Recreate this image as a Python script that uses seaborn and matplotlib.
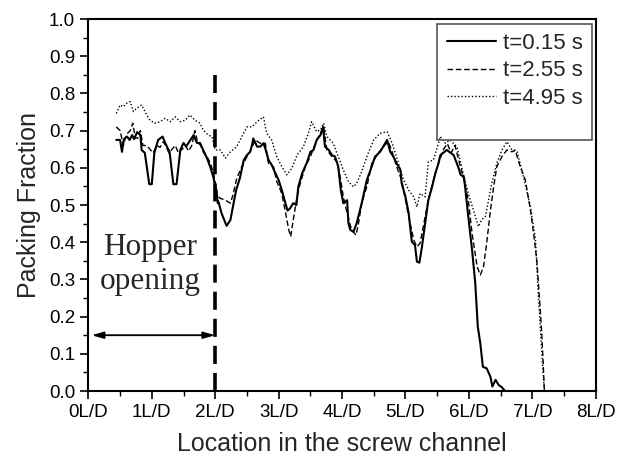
import matplotlib
matplotlib.use('Agg')
import matplotlib.pyplot as plt
from matplotlib.patches import Rectangle
from matplotlib.ticker import MultipleLocator, FuncFormatter
import seaborn as sns

# Packing fraction along the screw channel
x_solid = [0.44, 0.50, 0.53, 0.56, 0.61, 0.65, 0.69, 0.72, 0.77, 0.82,
           0.84, 0.89, 0.96, 1.00, 1.04, 1.10, 1.17, 1.21, 1.28, 1.34,
           1.39, 1.45, 1.50, 1.54, 1.59, 1.66, 1.71, 1.76, 1.81, 1.87,
           1.92, 1.97, 2.00, 2.02, 2.04, 2.05, 2.10, 2.16, 2.18, 2.24,
           2.29, 2.33, 2.39, 2.45, 2.50, 2.55, 2.58, 2.60, 2.66, 2.71,
           2.76, 2.79, 2.84, 2.89, 2.95, 3.00, 3.05, 3.10, 3.14, 3.18,
           3.23, 3.28, 3.31, 3.37, 3.45, 3.50, 3.55, 3.60, 3.66, 3.70,
           3.73, 3.79, 3.84, 3.89, 3.94, 3.98, 4.02, 4.08, 4.10, 4.13,
           4.18, 4.23, 4.31, 4.39, 4.44, 4.52, 4.60, 4.68, 4.71, 4.76,
           4.81, 4.86, 4.92, 4.94, 5.00, 5.05, 5.10, 5.15, 5.18, 5.22,
           5.26, 5.31, 5.36, 5.42, 5.47, 5.52, 5.55, 5.65, 5.76, 5.83,
           5.87, 5.92, 5.94, 5.99, 6.05, 6.10, 6.14, 6.18, 6.22, 6.28,
           6.34, 6.37, 6.42, 6.47, 6.52, 6.57]
y_solid = [0.675, 0.675, 0.643, 0.677, 0.684, 0.675, 0.688, 0.677, 0.696, 0.688,
           0.648, 0.640, 0.556, 0.556, 0.640, 0.675, 0.684, 0.667, 0.643, 0.556,
           0.556, 0.648, 0.667, 0.657, 0.670, 0.688, 0.667, 0.667, 0.648, 0.626,
           0.603, 0.576, 0.549, 0.540, 0.505, 0.509, 0.478, 0.452, 0.444, 0.460,
           0.505, 0.540, 0.573, 0.621, 0.634, 0.643, 0.661, 0.679, 0.657, 0.657,
           0.666, 0.652, 0.621, 0.608, 0.585, 0.567, 0.540, 0.509, 0.485, 0.491,
           0.505, 0.500, 0.549, 0.585, 0.616, 0.643, 0.648, 0.675, 0.688, 0.710,
           0.657, 0.648, 0.634, 0.630, 0.603, 0.540, 0.505, 0.513, 0.451, 0.433,
           0.428, 0.451, 0.505, 0.567, 0.590, 0.630, 0.643, 0.666, 0.675, 0.643,
           0.630, 0.612, 0.594, 0.558, 0.522, 0.478, 0.401, 0.392, 0.348, 0.345,
           0.388, 0.451, 0.513, 0.549, 0.585, 0.612, 0.634, 0.648, 0.634, 0.603,
           0.581, 0.576, 0.549, 0.469, 0.379, 0.290, 0.173, 0.128, 0.065, 0.061,
           0.038, 0.012, 0.030, 0.016, 0.010, 0.0]

x_dash = [0.44, 0.50, 0.55, 0.60, 0.66, 0.70, 0.74, 0.78, 0.82, 0.86,
          0.92, 0.97, 1.02, 1.08, 1.13, 1.18, 1.22, 1.27, 1.32, 1.37,
          1.42, 1.48, 1.53, 1.58, 1.63, 1.68, 1.72, 1.77, 1.82, 1.87,
          1.93, 1.98, 2.03, 2.08, 2.16, 2.24, 2.28, 2.34, 2.42, 2.50,
          2.55, 2.63, 2.71, 2.79, 2.84, 2.92, 2.97, 3.05, 3.10, 3.16,
          3.19, 3.23, 3.29, 3.34, 3.42, 3.50, 3.58, 3.63, 3.71, 3.76,
          3.84, 3.92, 3.97, 4.02, 4.08, 4.15, 4.22, 4.26, 4.31, 4.39,
          4.47, 4.57, 4.65, 4.73, 4.79, 4.86, 4.94, 5.00, 5.05, 5.13,
          5.18, 5.23, 5.28, 5.36, 5.44, 5.52, 5.60, 5.66, 5.72, 5.78,
          5.84, 5.91, 5.99, 6.05, 6.13, 6.18, 6.23, 6.28, 6.34, 6.39,
          6.44, 6.52, 6.60, 6.68, 6.73, 6.81, 6.89, 6.97, 7.02, 7.07,
          7.10, 7.14, 7.17, 7.19]
y_dash = [0.71, 0.70, 0.66, 0.69, 0.70, 0.72, 0.68, 0.68, 0.70, 0.66,
          0.66, 0.65, 0.64, 0.66, 0.655, 0.67, 0.66, 0.64, 0.65, 0.66,
          0.64, 0.65, 0.66, 0.645, 0.66, 0.70, 0.67, 0.66, 0.64, 0.63,
          0.61, 0.58, 0.527, 0.518, 0.513, 0.505, 0.527, 0.572, 0.603, 0.630,
          0.643, 0.675, 0.666, 0.666, 0.612, 0.603, 0.563, 0.531, 0.487, 0.433,
          0.415, 0.460, 0.522, 0.558, 0.603, 0.630, 0.666, 0.684, 0.710, 0.648,
          0.630, 0.616, 0.576, 0.522, 0.478, 0.433, 0.419, 0.451, 0.505, 0.549,
          0.612, 0.639, 0.657, 0.670, 0.643, 0.603, 0.567, 0.513, 0.469, 0.406,
          0.388, 0.397, 0.442, 0.513, 0.567, 0.612, 0.65, 0.665, 0.64, 0.66,
          0.62, 0.576, 0.513, 0.424, 0.334, 0.312, 0.334, 0.397, 0.487, 0.549,
          0.603, 0.630, 0.648, 0.643, 0.648, 0.603, 0.567, 0.487, 0.424, 0.352,
          0.280, 0.18, 0.08, 0.0]

x_dot = [0.44, 0.50, 0.55, 0.60, 0.66, 0.71, 0.76, 0.84, 0.92, 0.97,
         1.05, 1.13, 1.21, 1.29, 1.37, 1.45, 1.53, 1.60, 1.68, 1.76,
         1.81, 1.89, 1.95, 2.00, 2.08, 2.16, 2.24, 2.34, 2.42, 2.50,
         2.58, 2.66, 2.76, 2.81, 2.89, 2.97, 3.05, 3.13, 3.21, 3.29,
         3.39, 3.47, 3.52, 3.60, 3.66, 3.71, 3.76, 3.86, 3.94, 4.02,
         4.10, 4.18, 4.23, 4.31, 4.39, 4.50, 4.60, 4.71, 4.79, 4.89,
         4.97, 5.05, 5.13, 5.18, 5.23, 5.31, 5.36, 5.44, 5.52, 5.55,
         5.63, 5.70, 5.81, 5.91, 5.99, 6.07, 6.15, 6.20, 6.26, 6.31,
         6.36, 6.44, 6.52, 6.60, 6.68, 6.76, 6.86, 6.97, 7.05, 7.10,
         7.15, 7.19]
y_dot = [0.746, 0.769, 0.764, 0.773, 0.778, 0.751, 0.760, 0.769, 0.742, 0.728,
         0.720, 0.724, 0.733, 0.724, 0.737, 0.724, 0.728, 0.742, 0.728, 0.720,
         0.702, 0.688, 0.684, 0.648, 0.648, 0.626, 0.643, 0.657, 0.684, 0.710,
         0.710, 0.724, 0.737, 0.693, 0.675, 0.630, 0.603, 0.581, 0.599, 0.634,
         0.657, 0.693, 0.724, 0.697, 0.702, 0.720, 0.684, 0.666, 0.630, 0.594,
         0.563, 0.549, 0.558, 0.590, 0.630, 0.675, 0.693, 0.697, 0.666, 0.612,
         0.567, 0.540, 0.522, 0.495, 0.531, 0.522, 0.616, 0.621, 0.666, 0.684,
         0.666, 0.675, 0.657, 0.585, 0.531, 0.487, 0.442, 0.460, 0.469, 0.513,
         0.558, 0.612, 0.648, 0.670, 0.648, 0.643, 0.576, 0.495, 0.406, 0.245,
         0.10, 0.0]

labels = ['t=0.15 s', 't=2.55 s', 't=4.95 s']
x_ticks = list(range(0, 9))

# hopper opening marker
hopper_start = 0.05
hopper_end = 2.0
hopper_line_top = 0.85
arrow_y = 0.15

sns.set_style('ticks')
plt.rcParams['font.family'] = ['Liberation Sans', 'DejaVu Sans']

fig = plt.figure(figsize=(6.18, 4.57), dpi=100)
ax = fig.add_axes([0.143, 0.1444, 0.821, 0.814])

sns.lineplot(x=x_solid, y=y_solid, ax=ax, color='black', lw=1.5,
             estimator=None, sort=False, label=labels[0])
sns.lineplot(x=x_dash, y=y_dash, ax=ax, color='black', lw=1.0,
             linestyle=(0, (4, 2)), estimator=None, sort=False, label=labels[1])
sns.lineplot(x=x_dot, y=y_dot, ax=ax, color='black', lw=1.0,
             linestyle=(0, (1, 1.5)), estimator=None, sort=False, label=labels[2])

# hopper opening: dashed boundary, arrow and label
ax.vlines(hopper_end, 0, hopper_line_top, colors='black', lw=2.6,
          linestyles=[(0, (5, 2.5))])
ax.annotate('', xy=(hopper_start, arrow_y), xytext=(hopper_end, arrow_y),
            arrowprops=dict(arrowstyle='<|-|>,head_length=0.7,head_width=0.2',
                            color='black', lw=1.3, shrinkA=0, shrinkB=0))
ax.text((hopper_start + hopper_end) / 2 - 0.05, 0.34, 'Hopper\nopening',
        ha='center', va='center', fontsize=22.5, family='Liberation Serif',
        linespacing=1.2)

ax.set_xlim(0, 8)
ax.set_ylim(0, 1.0)
ax.set_xticks(x_ticks)
ax.set_xticklabels([f'{t}L/D' for t in x_ticks])
ax.yaxis.set_major_locator(MultipleLocator(0.1))
ax.yaxis.set_major_formatter(FuncFormatter(lambda v, p: f'{v:.1f}'))
ax.xaxis.set_minor_locator(MultipleLocator(0.5))
ax.yaxis.set_minor_locator(MultipleLocator(0.05))
ax.tick_params(which='major', direction='out', length=6, width=1.2,
               labelsize=13.5, color='black', labelcolor='black')
ax.tick_params(which='minor', direction='out', length=3.5, width=1.0, color='black')
for s in ax.spines.values():
    s.set_visible(True)
    s.set_linewidth(1.5)
    s.set_color('black')

ax.set_xlabel('Location in the screw channel', fontsize=18, labelpad=8)
ax.set_ylabel('Packing Fraction', fontsize=18, labelpad=6)

# legend with tall box like the original
ax.add_patch(Rectangle((0.687, 0.675), 0.306, 0.312, transform=ax.transAxes,
                       fill=False, ec='#555555', lw=1.2, zorder=5))
ax.legend(loc='upper left', bbox_to_anchor=(0.69, 0.987), frameon=False,
          fontsize=16, handlelength=2.2, handletextpad=0.3, labelspacing=0.3,
          borderaxespad=0)

fig.savefig('out.png', dpi=100)
